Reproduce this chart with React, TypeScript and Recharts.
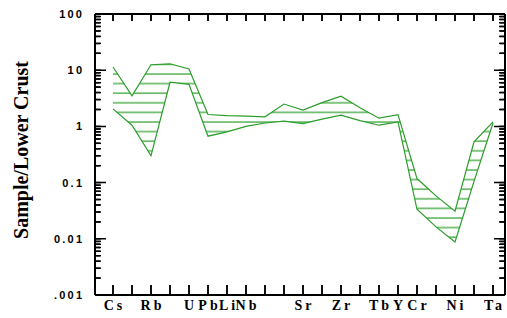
import React from 'react';
import { ComposedChart, Area, Line, XAxis, YAxis } from 'recharts';

// element order along the x axis (only some carry a label)
const elements = ['Cs', 'Ba', 'Rb', 'Th', 'U', 'Pb', 'Li', 'Nb', 'K', 'La', 'Sr', 'Ce', 'Zr', 'Nd', 'Tb', 'Y', 'Cr', 'Co', 'Ni', 'V', 'Ta'];
const shownLabels = ['Cs', 'Rb', 'U', 'Pb', 'Li', 'Nb', 'Sr', 'Zr', 'Tb', 'Y', 'Cr', 'Ni', 'Ta'];

// sample / lower crust, envelope of the field
const upper = [11.4, 3.5, 12.5, 13, 10.5, 1.63, 1.55, 1.52, 1.48, 2.5, 1.95, 2.65, 3.45, 2.15, 1.4, 1.62, 0.118, 0.058, 0.031, 0.53, 1.2];
const lower = [2.05, 1.05, 0.3, 6.1, 5.6, 0.67, 0.8, 1.0, 1.15, 1.24, 1.12, 1.35, 1.58, 1.27, 1.05, 1.2, 0.0335, 0.0163, 0.0088, 0.105, 1.15];

const yMajor = [0.001, 0.01, 0.1, 1, 10, 100];
const yMajorLabels = ['.001', '0.01', '0.1', '1', '10', '100'];
const minorSteps = [2, 3, 4, 5, 6, 7, 8, 9];

const GREEN = '#2a9d2a';
const INK = '#000';

// plot frame (matches the axis sizes given to the chart below)
const W = 507;
const H = 318;
const FRAME = { left: 95, right: 505, top: 14, bottom: 295, padLeft: 18, padRight: 12 };

const data = elements.map((el, i) => ({ el, range: [lower[i], upper[i]], hi: upper[i] }));

const yTicks = yMajor.flatMap((t, i) =>
  i === yMajor.length - 1 ? [t] : [t, ...minorSteps.map((m) => t * m)]
);

const tickLineStyle = { stroke: INK, strokeWidth: 1.5 };
const axisLineStyle = { stroke: INK, strokeWidth: 2 };

const LeftLabel = (props: any) => {
  const { x, y, payload } = props;
  const idx = yMajor.indexOf(payload.value);
  if (idx < 0) return <g />;
  return (
    <text
      x={Number(x)}
      y={Number(y) + 4}
      textAnchor="end"
      fontFamily="Liberation Sans, Arial, sans-serif"
      fontWeight="bold"
      fontSize={11}
      fill={INK}
    >
      {yMajorLabels[idx].split('').join('\u2009')}
    </text>
  );
};

const BottomLabel = (props: any) => {
  const { x, y, payload } = props;
  if (!shownLabels.includes(payload.value)) return <g />;
  return (
    <text
      x={Number(x) + 1.5}
      y={Number(y)}
      textAnchor="middle"
      fontFamily="Liberation Serif, Times New Roman, serif"
      fontWeight="bold"
      fontSize={14}
      letterSpacing={3}
      fill={INK}
    >
      {payload.value}
    </text>
  );
};

const NoLabel = () => <g />;

// inward tick marks on all four sides of the frame
function FrameTicks() {
  const yMin = Math.log10(yMajor[0]);
  const yMax = Math.log10(yMajor[yMajor.length - 1]);
  const yPos = (v: number) =>
    FRAME.top + ((yMax - Math.log10(v)) / (yMax - yMin)) * (FRAME.bottom - FRAME.top);
  const x0 = FRAME.left + FRAME.padLeft;
  const x1 = FRAME.right - FRAME.padRight;
  const step = (x1 - x0) / (elements.length - 1);
  let d = '';
  yTicks.forEach((v) => {
    const len = yMajor.includes(v) ? 11 : 5;
    const y = yPos(v).toFixed(1);
    d += `M${FRAME.left},${y}h${len}M${FRAME.right},${y}h${-len}`;
  });
  elements.forEach((_, i) => {
    const x = (x0 + i * step).toFixed(1);
    d += `M${x},${FRAME.bottom}v-10M${x},${FRAME.top}v7`;
  });
  return (
    <svg width={W} height={H} style={{ position: 'absolute', left: 0, top: 0, pointerEvents: 'none' }}>
      <path d={d} stroke={INK} strokeWidth={1.5} fill="none" />
    </svg>
  );
}

export default function App() {
  return (
    <div style={{ position: 'absolute', left: 0, top: 0, width: W, height: H, background: '#fff' }}>
      <svg width={0} height={0} style={{ position: 'absolute' }}>
        <defs>
          <pattern id="hatch" patternUnits="userSpaceOnUse" width={10} height={9.6}>
            <path d="M0,6.8h10" stroke={GREEN} strokeWidth={1.2} />
          </pattern>
        </defs>
      </svg>
      <svg width={40} height={H} style={{ position: 'absolute', left: 0, top: 0 }}>
        <text
          transform="translate(21,150) rotate(-90)"
          textAnchor="middle"
          dominantBaseline="central"
          fontFamily="Liberation Serif, Times New Roman, serif"
          fontWeight="bold"
          fontSize={20}
          fill={INK}
        >
          Sample/Lower Crust
        </text>
      </svg>
      <ComposedChart width={W} height={H} data={data} margin={{ top: 0, right: 0, bottom: 0, left: 0 }}>
        <XAxis
          dataKey="el"
          height={H - FRAME.bottom}
          padding={{ left: FRAME.padLeft, right: FRAME.padRight }}
          interval={0}
          tickSize={-10}
          tickMargin={25}
          tickLine={tickLineStyle}
          axisLine={axisLineStyle}
          tick={BottomLabel}
        />
        <XAxis
          xAxisId="top"
          orientation="top"
          dataKey="el"
          height={FRAME.top}
          padding={{ left: FRAME.padLeft, right: FRAME.padRight }}
          interval={0}
          tickSize={-7}
          tickMargin={0}
          tickLine={tickLineStyle}
          axisLine={axisLineStyle}
          tick={NoLabel}
        />
        <YAxis
          scale="log"
          domain={[0.001, 100]}
          allowDataOverflow
          ticks={yTicks}
          interval={0}
          width={FRAME.left}
          tickSize={-6}
          tickMargin={19}
          tickLine={tickLineStyle}
          axisLine={axisLineStyle}
          tick={LeftLabel}
        />
        <YAxis
          yAxisId="right"
          orientation="right"
          scale="log"
          domain={[0.001, 100]}
          allowDataOverflow
          ticks={yTicks}
          interval={0}
          width={W - FRAME.right}
          tickSize={-6}
          tickMargin={0}
          tickLine={tickLineStyle}
          axisLine={axisLineStyle}
          tick={NoLabel}
        />
        <Area
          type="linear"
          dataKey="range"
          stroke={GREEN}
          strokeWidth={1.2}
          fill="url(#hatch)"
          fillOpacity={1}
          dot={false}
          activeDot={false}
          isAnimationActive={false}
        />
        <Line
          xAxisId="top"
          yAxisId="right"
          dataKey="hi"
          stroke="none"
          dot={false}
          activeDot={false}
          isAnimationActive={false}
        />
      </ComposedChart>
      <FrameTicks />
    </div>
  );
}
